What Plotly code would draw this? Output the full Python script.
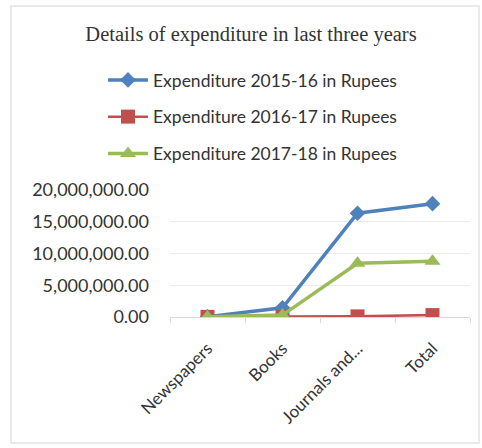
import plotly.graph_objects as go

categories = ["Newspapers", "Books", "Journals and...", "Total"]
exp_2015_16 = [50000, 1450000, 16350000, 17850000]
exp_2016_17 = [20000, 60000, 100000, 300000]
exp_2017_18 = [30000, 300000, 8450000, 8780000]
series_names = ["Expenditure 2015-16 in Rupees",
                "Expenditure 2016-17 in Rupees",
                "Expenditure 2017-18 in Rupees"]
y_ticks = [0, 5000000, 10000000, 15000000, 20000000]
y_tick_text = ["0.00", "5,000,000.00", "10,000,000.00", "15,000,000.00", "20,000,000.00"]

colors = ["#4F81BD", "#C0504D", "#9BBB59"]
symbols = ["diamond", "square", "triangle-up"]
msizes = [12, 14, 14]
lwidths = [3.5, 2.5, 3.5]

fig = go.Figure()
for i, vals in enumerate([exp_2015_16, exp_2016_17, exp_2017_18]):
    fig.add_trace(go.Scatter(
        x=categories, y=vals, mode="lines+markers", name=series_names[i],
        legendgroup=f"g{i}",
        line=dict(color=colors[i], width=lwidths[i]),
        marker=dict(symbol=symbols[i], size=msizes[i], color=colors[i]),
    ))

W, H = 482, 448
L, R, T, B = 170, 12, 190, 131
pw, ph = W - L - R, H - T - B

def px(x):
    return (x - L) / pw

def py(y):
    return (H - B - y) / ph

fig.update_layout(
    width=W, height=H,
    margin=dict(l=L, r=R, t=T, b=B),
    paper_bgcolor="white", plot_bgcolor="white",
    title=dict(text="Details of expenditure in last three years",
               x=251 / W, xanchor="center", y=1 - 34 / H, yanchor="middle",
               font=dict(family="Liberation Serif", size=20.5, color="#333333")),
    legend=dict(x=px(103), y=py(62), xanchor="left", yanchor="top",
                font=dict(family="Lato", size=17.5, color="#333333"),
                tracegroupgap=11, itemwidth=40, bgcolor="rgba(0,0,0,0)"),
    font=dict(family="Lato", color="#333333"),
    showlegend=True,
)
fig.update_xaxes(
    type="category", range=[-0.5, 3.5], tickangle=-45,
    tickfont=dict(family="Lato", size=17, color="#333333"),
    showgrid=False, showline=True, linecolor="#D9D9D9", linewidth=1,
    ticks="outside", ticklen=5, tickcolor="#D9D9D9",
    tickson="boundaries", zeroline=False, ticklabelstandoff=14,
)
fig.update_yaxes(
    range=[0, 20000000], tickvals=y_ticks, ticktext=y_tick_text,
    tickfont=dict(family="Lato", size=18, color="#333333"),
    showgrid=True, gridcolor="#EBEBEB", gridwidth=1, zeroline=False,
    showline=False, ticks="", ticklabelstandoff=20,
)
fig.add_shape(type="rect", xref="paper", yref="paper",
              x0=px(11), x1=px(479), y0=py(443), y1=py(6),
              line=dict(color="#E3E3E3", width=1.5), layer="below")

fig.write_html("out.html", config={"displayModeBar": False},
               post_script="document.body.style.margin='0';document.body.style.overflow='hidden';")
